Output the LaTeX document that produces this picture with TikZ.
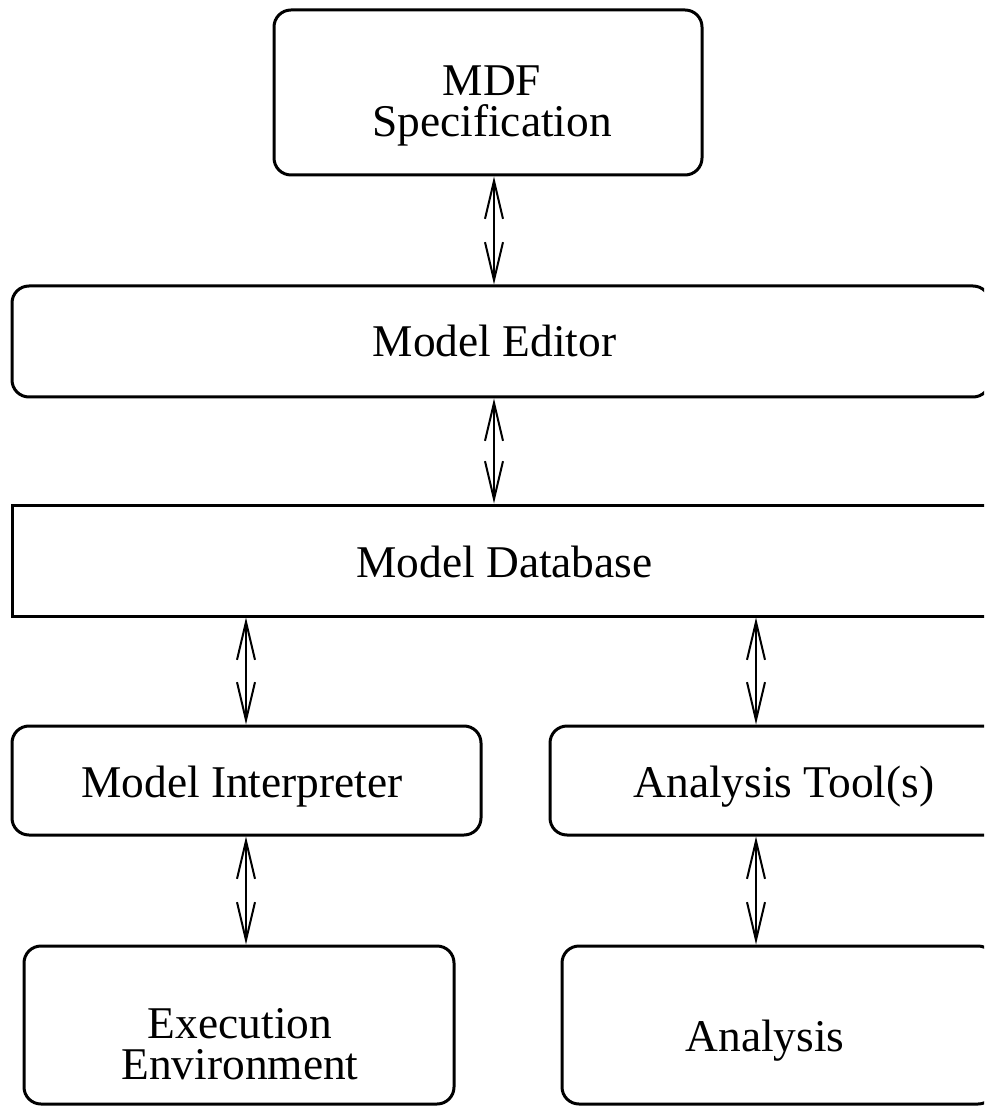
\documentclass[tikz,border=0pt]{standalone}
\usepackage{fontspec}
\setmainfont{Liberation Serif}
\usetikzlibrary{arrows.meta}
\begin{document}
\begin{tikzpicture}[x=0.5pt,y=-0.5pt,
  box/.style={draw, line width=1.5pt, rounded corners=8.5pt, inner sep=0pt},
  sharpbox/.style={draw, line width=1.5pt, inner sep=0pt},
  lbl/.style={inner sep=0pt, align=center, font=\fontsize{22.7}{20.5}\selectfont},
  link/.style={line width=1pt, {Straight Barb[length=19pt,width=9pt]}-{Straight Barb[length=19pt,width=9pt]}}]
  \useasboundingbox (0,0) rectangle (984,1111);
  \clip (0,0) rectangle (984,1111);

  % boxes
  \node[box, minimum width=214pt, minimum height=82.5pt] (mdf) at (488,92.5) {};
  \node[box, minimum width=489pt, minimum height=55.5pt] (editor) at (501,341.5) {};
  \node[sharpbox, minimum width=492.5pt, minimum height=55.5pt] (db) at (504.5,560.5) {};
  \node[box, minimum width=234.5pt, minimum height=54.5pt] (interp) at (246.5,780.5) {};
  \node[box, minimum width=234pt, minimum height=54.5pt] (tools) at (784,780.5) {};
  \node[box, minimum width=215pt, minimum height=79pt] (exec) at (239,1025) {};
  \node[box, minimum width=216.5pt, minimum height=79pt] (analysis) at (778.5,1025) {};

  % labels (two-line labels are placed by the baseline of their last line)
  \node[lbl, anchor=base] (mdfT) at (492,137) {MDF\\Specification};
  \node[lbl, anchor=base] (editorT) at (494.5,357) {Model Editor};
  \node[lbl, anchor=base] (dbT) at (504.5,577) {Model Database};
  \node[lbl, anchor=base] (interpT) at (242,797) {Model Interpreter};
  \node[lbl, anchor=base] (toolsT) at (784,797) {Analysis Tool(s)};
  \node[lbl, anchor=base] (execT) at (240,1079) {Execution\\Environment};
  \node[lbl, anchor=base] (analysisT) at (765,1051) {Analysis};

  % connector columns
  \coordinate (colA) at (494,0);
  \coordinate (colB) at (246,0);
  \coordinate (colC) at (756,0);

  \draw[link] (mdf.south -| colA) -- (editor.north -| colA);
  \draw[link] (editor.south -| colA) -- (db.north -| colA);
  \draw[link] (db.south -| colB) -- (interp.north -| colB);
  \draw[link] (db.south -| colC) -- (tools.north -| colC);
  \draw[link] (interp.south -| colB) -- (exec.north -| colB);
  \draw[link] (tools.south -| colC) -- (analysis.north -| colC);
\end{tikzpicture}
\end{document}
